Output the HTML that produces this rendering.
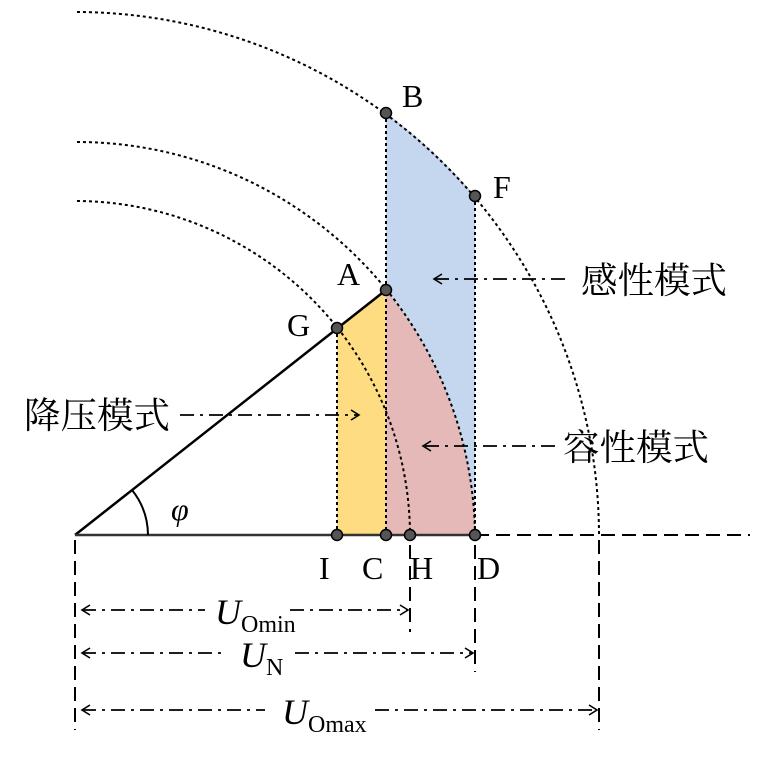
<!DOCTYPE html>
<html><head><meta charset="utf-8"><style>
html,body{margin:0;padding:0;background:#fff;}
svg{display:block;}
.cn{font-family:"Liberation Serif","Noto Serif CJK SC",serif;font-size:36.5px;fill:#000;}
.lt{font-family:"Liberation Serif",serif;font-size:32px;fill:#000;}
</style></head><body>
<svg width="769" height="760" viewBox="0 0 769 760" xmlns="http://www.w3.org/2000/svg">
<defs>
<marker id="ah" markerWidth="12" markerHeight="12" refX="10" refY="6" orient="auto-start-reverse" markerUnits="userSpaceOnUse">
<path d="M2,1 L10,6 L2,11" fill="none" stroke="#000" stroke-width="1.6"/>
</marker>
</defs>
<path d="M386,113 A524,524 0 0 1 475,196 L475,535 L386,535 Z" fill="#c5d7ee"/>
<path d="M386,290 A398,398 0 0 1 475,535 L386,535 Z" fill="#e5b9b7"/>
<path d="M337,328 L386,290 L386,535 L337,535 Z" fill="#fddc82"/>
<g fill="none" stroke="#000" stroke-width="2" stroke-dasharray="3,3">
<path d="M77,12 A524,524 0 0 1 599,535"/>
<path d="M77,142 A398,398 0 0 1 475,535"/>
<path d="M77,201 A335,335 0 0 1 410,535"/>
<line x1="386" y1="113" x2="386" y2="535"/>
<line x1="475" y1="196" x2="475" y2="535"/>
<line x1="337" y1="328" x2="337" y2="535"/>
</g>
<line x1="75" y1="535" x2="386" y2="290" stroke="#000" stroke-width="2.5"/>
<line x1="75" y1="535" x2="475" y2="535" stroke="#333" stroke-width="2.5"/>
<line x1="475" y1="535" x2="750" y2="535" stroke="#000" stroke-width="2" stroke-dasharray="14,7"/>
<path d="M148,535 A73,73 0 0 0 132,490" fill="none" stroke="#000" stroke-width="2"/>
<text x="171" y="520" class="lt" font-style="italic" font-size="36">φ</text>
<g stroke="#000" stroke-width="2" stroke-dasharray="14,7">
<line x1="75" y1="540" x2="75" y2="730"/>
<line x1="410" y1="545" x2="410" y2="632"/>
<line x1="475" y1="545" x2="475" y2="672"/>
<line x1="599" y1="540" x2="599" y2="730"/>
</g>
<g stroke="#000" stroke-width="1.8" stroke-dasharray="14,6,3,6" fill="none">
<line x1="82" y1="610" x2="205" y2="610" marker-start="url(#ah)"/>
<line x1="290" y1="610" x2="408" y2="610" marker-end="url(#ah)"/>
<line x1="82" y1="653" x2="225" y2="653" marker-start="url(#ah)"/>
<line x1="295" y1="653" x2="473" y2="653" marker-end="url(#ah)"/>
<line x1="82" y1="710" x2="265" y2="710" marker-start="url(#ah)"/>
<line x1="375" y1="710" x2="597" y2="710" marker-end="url(#ah)"/>
<line x1="565" y1="279" x2="434" y2="279" marker-end="url(#ah)"/>
<line x1="555" y1="446" x2="423" y2="446" marker-end="url(#ah)"/>
<line x1="180" y1="415" x2="359" y2="415" marker-end="url(#ah)"/>
</g>
<text x="215" y="624" class="lt"><tspan font-style="italic" font-size="36">U</tspan><tspan font-size="24" dy="8">Omin</tspan></text>
<text x="240" y="667" class="lt"><tspan font-style="italic" font-size="36">U</tspan><tspan font-size="24" dy="8">N</tspan></text>
<text x="282" y="724" class="lt"><tspan font-style="italic" font-size="36">U</tspan><tspan font-size="24" dy="8">Omax</tspan></text>
<g fill="#555" stroke="#000" stroke-width="1.5">
<circle cx="386" cy="113" r="5.5"/><circle cx="475" cy="196" r="5.5"/>
<circle cx="386" cy="290" r="5.5"/><circle cx="337" cy="328" r="5.5"/>
<circle cx="337" cy="535" r="5.5"/><circle cx="386" cy="535" r="5.5"/>
<circle cx="410" cy="535" r="5.5"/><circle cx="475" cy="535" r="5.5"/>
</g>
<text x="402" y="107" class="lt">B</text>
<text x="493" y="198" class="lt">F</text>
<text x="337" y="285" class="lt">A</text>
<text x="287" y="336" class="lt">G</text>
<text x="319" y="579" class="lt">I</text>
<text x="362" y="579" class="lt">C</text>
<text x="410" y="579" class="lt">H</text>
<text x="477" y="579" class="lt">D</text>
<text x="581" y="293" class="cn">感性模式</text>
<text x="563" y="460" class="cn">容性模式</text>
<text x="24" y="428" class="cn">降压模式</text>
</svg>
</body></html>
